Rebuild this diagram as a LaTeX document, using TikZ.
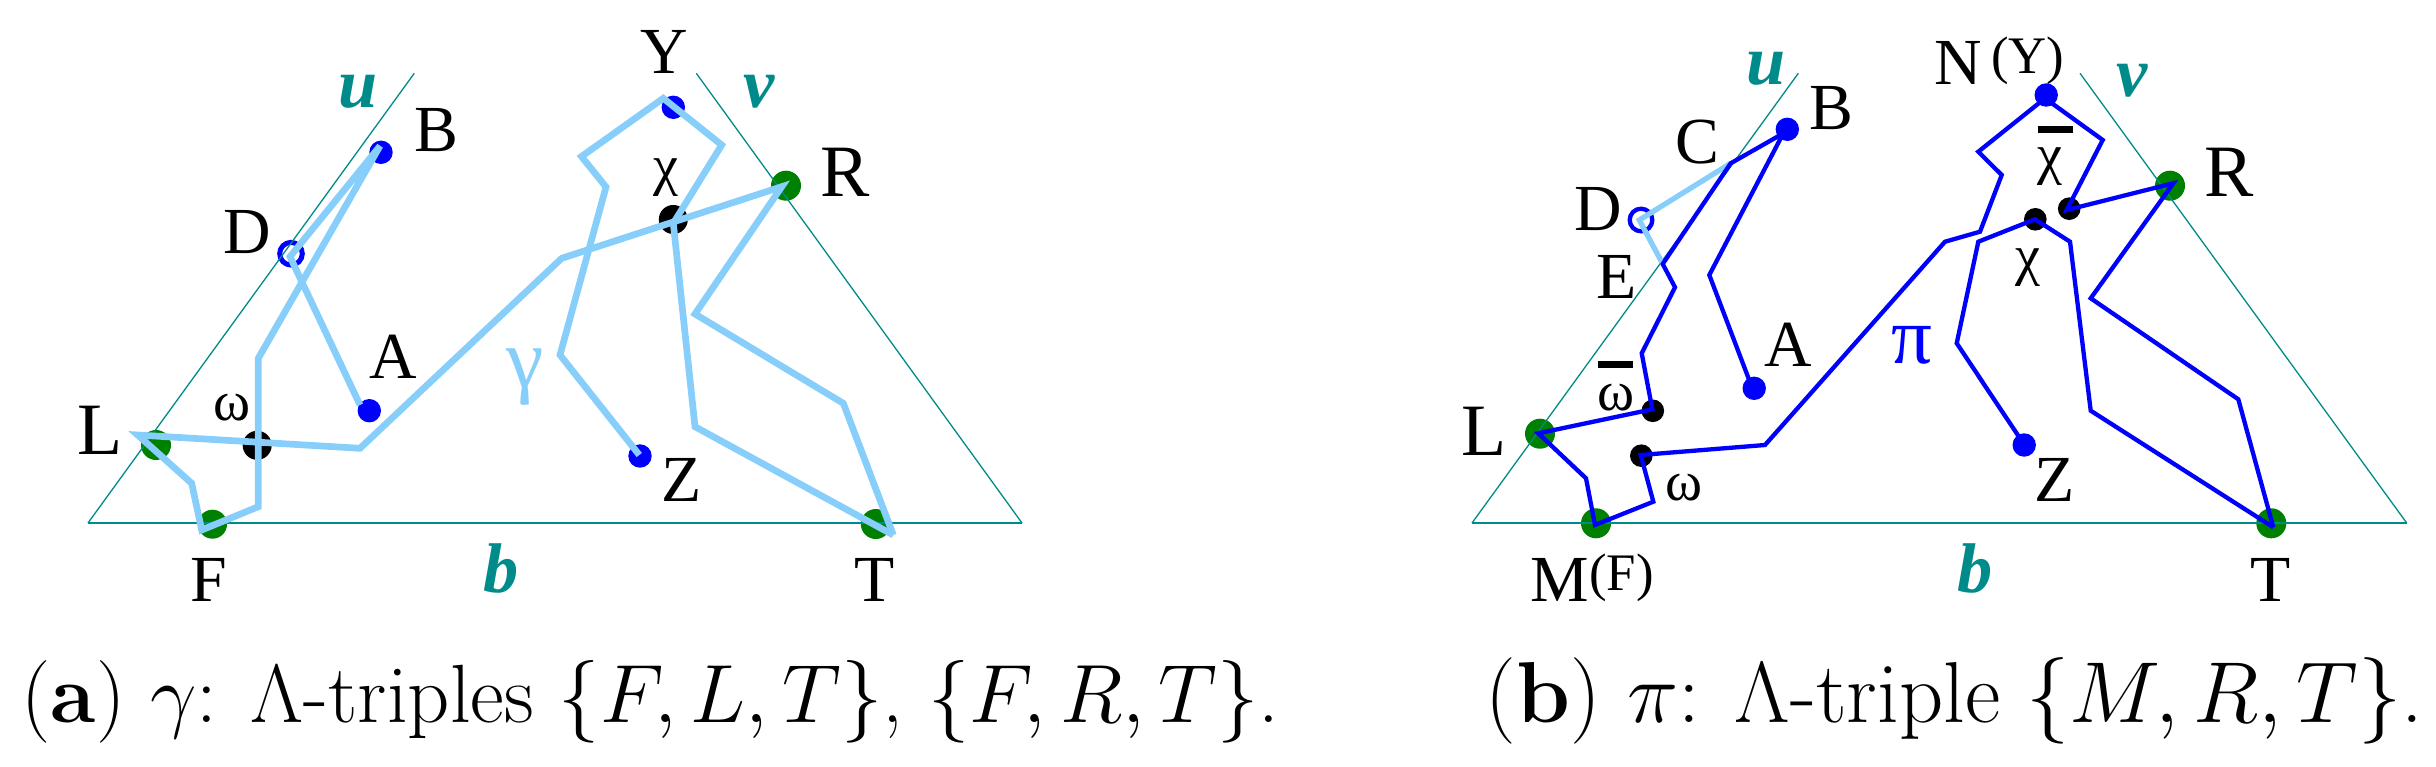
\RequirePackage{fix-cm}
\documentclass[tikz,border=0pt]{standalone}
\usepackage{fontspec}
\newfontfamily\lab{Liberation Serif}
\definecolor{tealc}{RGB}{0,139,139}
\definecolor{lblue}{RGB}{135,206,250}
\definecolor{pblue}{RGB}{0,0,255}
\definecolor{dgreen}{RGB}{0,128,0}
\tikzset{
  dotb/.style={circle, fill=pblue, inner sep=0pt, minimum size=0.234cm},
  dotg/.style={circle, fill=dgreen, inner sep=0pt, minimum size=0.30cm},
  dotka/.style={circle, fill=black, inner sep=0pt, minimum size=0.29cm},
  dotkb/.style={circle, fill=black, inner sep=0pt, minimum size=0.226cm},
  hollowa/.style={circle, draw=pblue, line width=0.05cm, inner sep=0pt, minimum size=0.226cm},
  hollowb/.style={circle, draw=pblue, line width=0.043cm, inner sep=0pt, minimum size=0.226cm},
  tri/.style={draw=tealc, line width=0.013cm},
  gam/.style={draw=lblue, line width=0.067cm, line join=miter},
  lbseg/.style={draw=lblue, line width=0.053cm, line join=miter},
  pip/.style={draw=pblue, line width=0.043cm, line join=miter},
  capl/.style={inner sep=0pt, font=\lab\fontsize{18.7}{20}\selectfont},
  bigl/.style={inner sep=0pt, font=\lab\fontsize{21}{22}\selectfont},
  grk/.style={inner sep=0pt, font=\lab\fontsize{16}{17}\selectfont},
  uvb/.style={inner sep=0pt, text=tealc, font=\lab\fontsize{20}{21}\selectfont\bfseries\itshape},
  capt/.style={inner sep=0pt, anchor=base west}
}
\begin{document}
\begin{tikzpicture}[x=0.01cm, y=-0.01cm]
\useasboundingbox (0,0) rectangle (2436,767);

% ================= panel (a) =================
% dots
\node[dotb] (Bd) at (381,152.3) {};
\node[hollowa] (Dd) at (291,253.7) {};
\node[dotb] (Ad) at (369.3,410.7) {};
\node[dotg] (Ld) at (156,445) {};
\node[dotka] (wd) at (257.2,445.3) {};
\node[dotg, minimum size=0.29cm] (Fd) at (212.5,524.2) {};
\node[dotb] (Zd) at (640,456) {};
\node[dotb] (Yd) at (673.3,107.3) {};
\node[dotka] (chid) at (673.3,219.5) {};
\node[dotg] (Rd) at (786,185.7) {};
\node[dotg] (Td) at (875.8,524) {};

% triangle
\coordinate (ta1) at (88,523);
\coordinate (ta2) at (414.3,73.3);
\coordinate (ta3) at (696.3,73.3);
\coordinate (ta4) at (1022,523);
\draw[tri] (ta1) -- (ta2);
\draw[tri] (ta1) -- (ta4);
\draw[tri] (ta3) -- (ta4);

% path gamma, strand 1
\coordinate (a1) at (360,405);
\coordinate (a2) at (290,256.7);
\coordinate (a3) at (380,146);
\coordinate (a4) at (258.3,358.3);
\coordinate (a5) at (258.3,506.7);
\coordinate (a6) at (201.7,530);
\coordinate (a7) at (191.7,483.3);
\coordinate (a8) at (137.7,435);
\coordinate (a9) at (360,448.3);
\coordinate (a10) at (561.7,258.3);
\coordinate (a11) at (781.7,186.7);
\coordinate (a12) at (695,314);
\coordinate (a13) at (843.3,403.3);
\coordinate (a14) at (893.3,535);
\draw[gam] (a1) -- (a2) -- (a3) -- (a4) -- (a5) -- (a6) -- (a7) -- (a8) -- (a9)
  -- (a10) -- (a11) -- (a12) -- (a13) -- (a14);
% strand 2
\coordinate (b1) at (639.3,455);
\coordinate (b2) at (560,355);
\coordinate (b3) at (606,187);
\coordinate (b4) at (581.5,156.5);
\coordinate (b5) at (663.3,98.3);
\coordinate (b6) at (721.7,145);
\coordinate (b7) at (673.3,223.3);
\coordinate (b8) at (695,426.7);
\draw[gam] (b1) -- (b2) -- (b3) -- (b4) -- (b5) -- (b6) -- (b7) -- (b8) -- (a14);

% labels
\node[uvb] (ua) at (358,92) {u};
\node[uvb] (va) at (759.5,91.7) {v};
\node[uvb] (ba) at (501,568) {b};
\node[capl] (Bl) at (436.7,130) {B};
\node[capl] (Dl) at (247.2,231.7) {D};
\node[capl] (Al) at (392.8,356.3) {A};
\node[grk] (wl) at (232,408) {ω};
\node[bigl] (Ll) at (100,430.8) {L};
\node[inner sep=0pt, text=lblue, font=\lab\fontsize{24}{25}\selectfont] (gl) at (525,377.5) {γ};
\node[capl] (Fl) at (209,580) {F};
\node[capl] (Yl) at (664,51.5) {Y};
\node[grk] (chl) at (665.8,177.5) {χ};
\node[bigl] (Rl) at (845,172) {R};
\node[capl] (Zl) at (681.2,480.3) {Z};
\node[capl] (Tl) at (874.6,580) {T};

% ================= panel (b) =================
\node[dotb] (B2d) at (1787.3,129.3) {};
\node[hollowb] (D2d) at (1641,220) {};
\node[dotb] (A2d) at (1754.2,388.3) {};
\node[dotg] (L2d) at (1540,433.7) {};
\node[dotg] (M2d) at (1596,523.3) {};
\node[dotkb] (wb2d) at (1652.8,410.8) {};
\node[dotkb] (w2d) at (1641.3,455.7) {};
\node[dotb] (N2d) at (2046.2,95) {};
\node[dotkb] (cb2d) at (2069.2,208.7) {};
\node[dotkb] (c2d) at (2035.3,219.3) {};
\node[dotg] (R2d) at (2170,185.7) {};
\node[dotb] (Z2d) at (2024.2,445) {};
\node[dotg] (T2d) at (2271.3,523.3) {};

% triangle
\coordinate (tb1) at (1472,523);
\coordinate (tb2) at (1798.3,73.3);
\coordinate (tb3) at (2080,73.3);
\coordinate (tb4) at (2406.7,523);
\draw[tri] (tb1) -- (tb2);
\draw[tri] (tb1) -- (tb4);
\draw[tri] (tb3) -- (tb4);

% light blue piece C-D-E
\coordinate (p4) at (1730.7,163.3);
\coordinate (lb2) at (1639.3,220);
\coordinate (p5) at (1662.7,264);
\draw[lbseg] (p4) -- (lb2) -- (p5);

% path pi, strand 1
\coordinate (p1) at (1751.7,386.7);
\coordinate (p2) at (1709.3,275);
\coordinate (p3) at (1783.3,133.3);
\coordinate (p6) at (1675,287.3);
\coordinate (p7) at (1641.7,353.3);
\coordinate (p8) at (1652.3,409.3);
\coordinate (p9) at (1538.3,433.3);
\coordinate (p10) at (1586,478.3);
\coordinate (p11) at (1595,525);
\coordinate (p12) at (1653.3,501.7);
\coordinate (p13) at (1640.7,455);
\coordinate (p14) at (1765,445);
\coordinate (p15) at (1945,241.7);
\coordinate (p16) at (1980,231.7);
\coordinate (p17) at (2001.7,175);
\coordinate (p18) at (1978.3,151.7);
\coordinate (p19) at (2045,98.3);
\coordinate (p20) at (2102.7,140);
\coordinate (p21) at (2066.7,210);
\coordinate (p22) at (2173.3,183.3);
\coordinate (p23) at (2090.7,298.3);
\coordinate (p24) at (2238.3,399.3);
\coordinate (p25) at (2273.3,527.3);
\draw[pip] (p1) -- (p2) -- (p3) -- (p4) -- (p5) -- (p6) -- (p7) -- (p8) -- (p9)
  -- (p10) -- (p11) -- (p12) -- (p13) -- (p14) -- (p15) -- (p16) -- (p17) -- (p18)
  -- (p19) -- (p20) -- (p21) -- (p22) -- (p23) -- (p24) -- (p25);
% strand 2
\coordinate (q1) at (2023.3,443.3);
\coordinate (q2) at (1956.7,343.3);
\coordinate (q3) at (1978.3,241.7);
\coordinate (q4) at (2035,219.3);
\coordinate (q5) at (2070,241.7);
\coordinate (q6) at (2090.7,410.7);
\draw[pip] (q1) -- (q2) -- (q3) -- (q4) -- (q5) -- (q6) -- (p25);

% labels
\node[uvb] (ub) at (1765.8,69.2) {u};
\node[uvb] (vb) at (2132.3,80.3) {v};
\node[uvb] (bb) at (1975.3,568.3) {b};
\node[capl] (B2l) at (1831.2,108) {B};
\node[capl] (C2l) at (1697.5,141.7) {C};
\node[capl] (D2l) at (1597.8,208.7) {D};
\node[capl] (E2l) at (1617,276.7) {E};
\node[capl] (A2l) at (1788,345) {A};
\node[grk, anchor=base] (wb2l) at (1616.2,410) {\makebox[0pt][l]{\raisebox{0.42cm}{\rule{0.35cm}{0.066cm}}}ω};
\node[bigl] (L2l) at (1484,431) {L};
\node[capl, anchor=base west] (M2l) at (1530,601) {M\raisebox{0.10cm}{\fontsize{15}{15}\selectfont(F)}};
\node[grk] (w2l) at (1683.8,487.5) {ω};
\node[inner sep=0pt, text=pblue, font=\lab\fontsize{23}{24}\selectfont] (pil) at (1911.7,345.8) {π};
\node[capl, anchor=base west] (N2l) at (1934,85) {N\hspace{2.5pt}\raisebox{0.115cm}{\fontsize{15}{15}\selectfont(Y)}};
\node[grk, anchor=base] (cb2l) at (2050,173) {\makebox[0pt][l]{\raisebox{0.40cm}{\rule{0.35cm}{0.066cm}}}χ};
\node[grk] (c2l) at (2027.8,267.5) {χ};
\node[bigl] (R2l) at (2228.8,172) {R};
\node[capl] (Z2l) at (2054.2,480.3) {Z};
\node[capl] (T2l) at (2270.5,580) {T};

% captions
\node[capt, font=\fontsize{23.5}{26}\selectfont] (capa) at (21,722.5) {(\textbf{a}) $\gamma$: $\Lambda$-triples $\{F, L, T\}$, $\{F, R, T\}$.};
\node[capt, font=\fontsize{24.6}{27}\selectfont] (capb) at (1485,722.5) {(\textbf{b}) $\pi$: $\Lambda$-triple $\{M, R, T\}$.};
\end{tikzpicture}
\end{document}
